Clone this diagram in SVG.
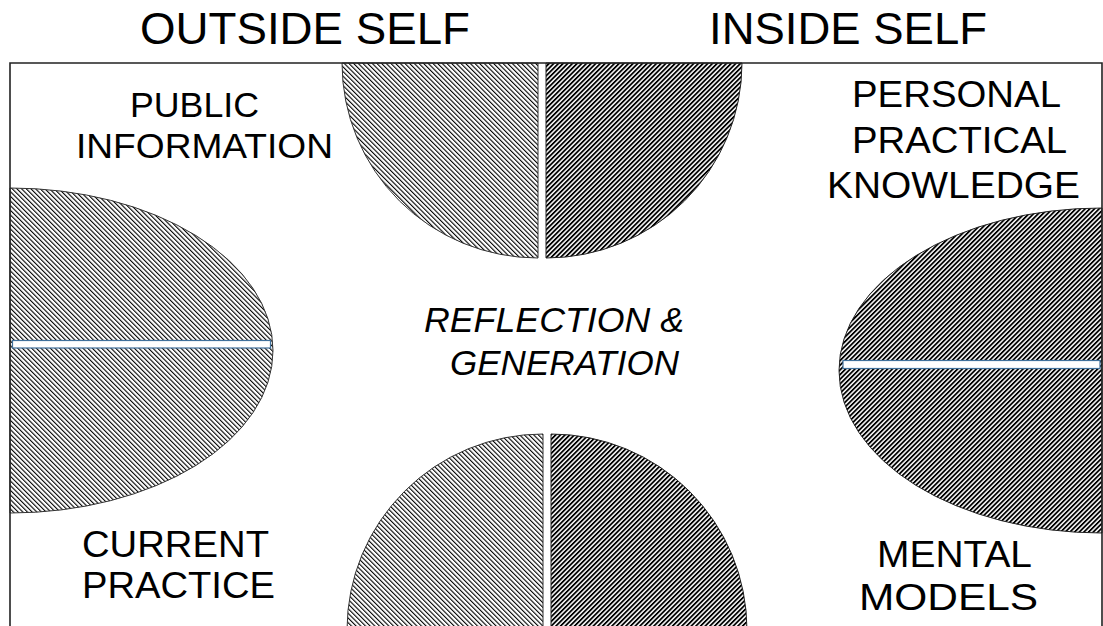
<svg xmlns="http://www.w3.org/2000/svg" width="1103" height="626" viewBox="0 0 1103 626">
<defs>
<pattern id="lightHatch" patternUnits="userSpaceOnUse" width="3.3" height="3.3" patternTransform="rotate(-45)">
<rect x="0" y="0" width="3.3" height="3.3" fill="#fff"/>
<rect x="0" y="0" width="1.1" height="3.3" fill="#000"/>
</pattern>
<pattern id="darkHatch" patternUnits="userSpaceOnUse" width="3.3" height="3.3" patternTransform="rotate(45)">
<rect x="0" y="0" width="3.3" height="3.3" fill="#fff"/>
<rect x="0" y="0" width="1.8" height="3.3" fill="#000"/>
</pattern>
</defs>
<style>
.t{font-family:"Liberation Sans",Arial,sans-serif;fill:#000;}
.light{fill:url(#lightHatch);stroke:#333;stroke-width:1;}
.dark{fill:url(#darkHatch);stroke:#222;stroke-width:1;}
.bar{fill:#fff;stroke:#41719c;stroke-width:1.2;}
.frame{fill:none;stroke:#222;stroke-width:1.6;}
</style>
<rect width="1103" height="626" fill="#fff"/>
<g id="top-left"><path class="light" d="M538 63 L342 63 A196 195 0 0 0 538 258 Z"/></g>
<g id="top-right"><path class="dark" d="M546 63 L742 63 A196 195 0 0 1 546 258 Z"/></g>
<g id="bottom-left"><path class="light" d="M543 630 L543 434 A196 196 0 0 0 347 630 Z"/></g>
<g id="bottom-right"><path class="dark" d="M551 630 L551 434 A196 196 0 0 1 747 630 Z"/></g>
<g id="left-ellipse">
<path class="light" d="M10 188 A263 162.5 0 0 1 10 513 Z"/>
<rect class="bar" x="12.5" y="340.5" width="258" height="7.5"/>
</g>
<g id="right-ellipse">
<path class="dark" d="M1102 208 A263 162.5 0 0 0 1102 533 Z"/>
<rect class="bar" x="843" y="360.5" width="257" height="8"/>
</g>
<g id="frame"><path class="frame" d="M10 630 L10 63 L1102 63 L1102 630"/></g>
<g id="connectors"></g>
<g id="label-outside"><text class="t" x="140" y="44" font-size="44" textLength="330" lengthAdjust="spacingAndGlyphs">OUTSIDE SELF</text></g>
<g id="label-inside"><text class="t" x="709" y="44" font-size="44" textLength="278" lengthAdjust="spacingAndGlyphs">INSIDE SELF</text></g>
<g id="label-public">
<text class="t" x="130" y="117" font-size="35" textLength="129" lengthAdjust="spacingAndGlyphs">PUBLIC</text>
<text class="t" x="76" y="158" font-size="35" textLength="257" lengthAdjust="spacingAndGlyphs">INFORMATION</text>
</g>
<g id="label-personal">
<text class="t" x="852" y="107" font-size="36" textLength="209" lengthAdjust="spacingAndGlyphs">PERSONAL</text>
<text class="t" x="852" y="153" font-size="36" textLength="215" lengthAdjust="spacingAndGlyphs">PRACTICAL</text>
<text class="t" x="827" y="198" font-size="36" textLength="253" lengthAdjust="spacingAndGlyphs">KNOWLEDGE</text>
</g>
<g id="label-center">
<text class="t" x="424" y="332" font-size="35" font-style="italic" textLength="260" lengthAdjust="spacingAndGlyphs">REFLECTION &amp;</text>
<text class="t" x="450" y="375" font-size="35" font-style="italic" textLength="229" lengthAdjust="spacingAndGlyphs">GENERATION</text>
</g>
<g id="label-current">
<text class="t" x="82" y="557" font-size="36" textLength="187" lengthAdjust="spacingAndGlyphs">CURRENT</text>
<text class="t" x="82" y="598" font-size="36" textLength="193" lengthAdjust="spacingAndGlyphs">PRACTICE</text>
</g>
<g id="label-mental">
<text class="t" x="877" y="567" font-size="36" textLength="155" lengthAdjust="spacingAndGlyphs">MENTAL</text>
<text class="t" x="859" y="610" font-size="36" textLength="179" lengthAdjust="spacingAndGlyphs">MODELS</text>
</g>
</svg>
